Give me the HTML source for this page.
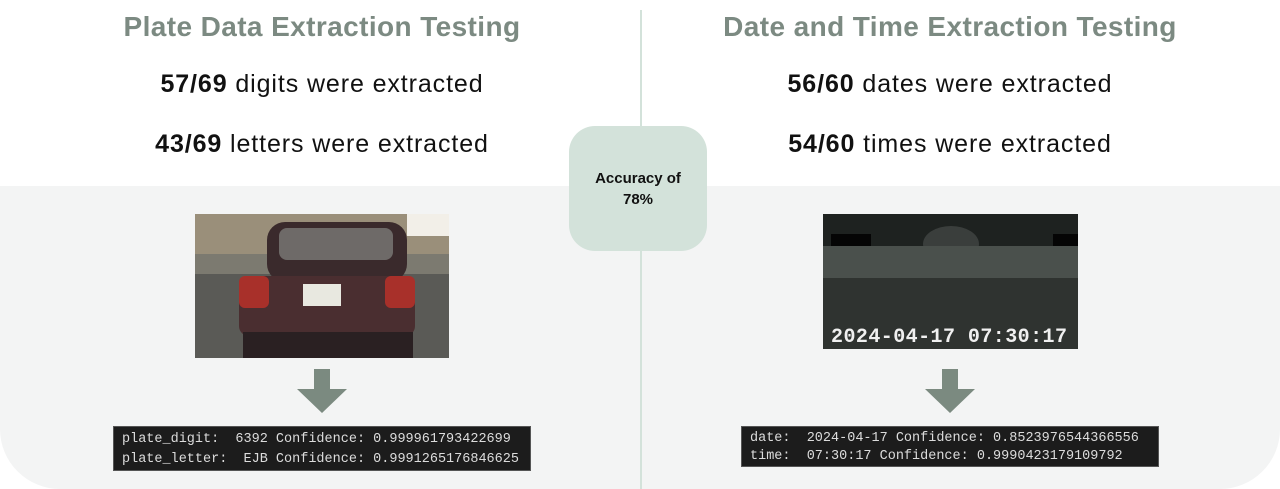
<!DOCTYPE html>
<html><head><style>
*{margin:0;padding:0;box-sizing:border-box}
body{width:1280px;height:489px;background:#fff;position:relative;overflow:hidden;font-family:"Liberation Sans",sans-serif}
.gray{position:absolute;left:0;top:186px;width:1280px;height:303px;background:#f3f4f4;border-radius:0 0 60px 60px}
.vline{position:absolute;left:640px;top:10px;width:2px;height:479px;background:#d3e2da}
.title{position:absolute;top:11px;width:640px;text-align:center;font-weight:bold;font-size:28px;letter-spacing:0.4px;color:#7c8a82}
.stat{position:absolute;width:640px;text-align:center;font-size:25px;letter-spacing:0.9px;color:#111}
.stat b{font-weight:bold}
.box{position:absolute;left:569px;top:126px;width:138px;height:125px;background:#d3e2da;border-radius:26px;display:flex;align-items:center;justify-content:center;text-align:center;font-weight:bold;font-size:15px;line-height:21px;color:#111}
.term{position:absolute;background:#1c1c1c;color:#dcdcdc;font-family:"Liberation Mono",monospace;font-size:13.5px;line-height:20px;padding:3px 8px;white-space:pre;border:1px solid #555}
.arrow{position:absolute;width:50px;height:44px}
</style></head><body>
<div class="gray"></div>
<div class="vline"></div>
<div class="title" style="left:2px">Plate Data Extraction Testing</div>
<div class="title" style="left:630px">Date and Time Extraction Testing</div>
<div class="stat" style="left:2px;top:70px"><b>57/69</b> digits were extracted</div>
<div class="stat" style="left:2px;top:130px"><b>43/69</b> letters were extracted</div>
<div class="stat" style="left:630px;top:70px"><b>56/60</b> dates were extracted</div>
<div class="stat" style="left:630px;top:130px"><b>54/60</b> times were extracted</div>
<div class="box">Accuracy of<br>78%</div>

<svg style="position:absolute;left:195px;top:214px" width="254" height="144" viewBox="0 0 254 144">
<rect width="254" height="144" fill="#5a5a56"/>
<rect width="254" height="40" fill="#9a8f7a"/>
<rect x="212" width="42" height="22" fill="#f2efe8"/>
<rect y="40" width="254" height="20" fill="#7c7a70"/>
<rect x="72" y="8" width="140" height="60" rx="18" fill="#3a2a2c"/>
<rect x="84" y="14" width="114" height="32" rx="8" fill="#6e6a68"/>
<rect x="44" y="62" width="176" height="60" rx="10" fill="#4a2e30"/>
<rect x="44" y="62" width="30" height="32" rx="6" fill="#a8302a"/>
<rect x="190" y="62" width="30" height="32" rx="6" fill="#a8302a"/>
<rect x="108" y="70" width="38" height="22" fill="#e8e8e0"/>
<rect x="48" y="118" width="170" height="26" fill="#2a2022"/>
</svg>
<svg style="position:absolute;left:823px;top:214px" width="255" height="135" viewBox="0 0 255 135">
<rect width="255" height="135" fill="#2f3330"/>
<rect width="255" height="32" fill="#1e2220"/>
<rect x="8" y="20" width="40" height="14" fill="#050505"/>
<rect x="230" y="20" width="25" height="14" fill="#050505"/>
<ellipse cx="128" cy="30" rx="28" ry="18" fill="#3a3e3c"/>
<rect y="32" width="255" height="32" fill="#4a504c"/>
<text x="8" y="128" font-family="Liberation Mono,monospace" font-size="20" textLength="236" font-weight="bold" fill="#f0f0f0">2024-04-17 07:30:17</text>
</svg>

<svg class="arrow" style="left:297px;top:369px" viewBox="0 0 50 44"><path d="M17 0H33V20H50L25 44L0 20H17Z" fill="#7b8a80"/></svg>
<svg class="arrow" style="left:925px;top:369px" viewBox="0 0 50 44"><path d="M17 0H33V20H50L25 44L0 20H17Z" fill="#7b8a80"/></svg>

<div class="term" style="left:113px;top:426px;width:418px;height:45px">plate_digit:  6392 Confidence: 0.999961793422699
plate_letter:  EJB Confidence: 0.9991265176846625</div>
<div class="term" style="left:741px;top:426px;width:418px;height:41px;line-height:17.5px">date:  2024-04-17 Confidence: 0.8523976544366556
time:  07:30:17 Confidence: 0.9990423179109792</div>
</body></html>
